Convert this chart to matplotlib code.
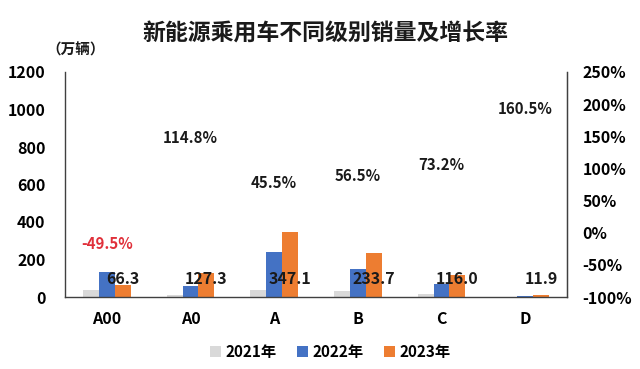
import matplotlib
matplotlib.use("Agg")
import matplotlib.pyplot as plt
import numpy as np

plt.rcParams['font.family'] = ['Noto Sans CJK SC', 'DejaVu Sans']

categories = ['A00', 'A0', 'A', 'B', 'C', 'D']
sales_2021 = [35, 9, 40, 32, 15, 1]
sales_2022 = [131.3, 59.3, 238.6, 149.3, 67.0, 4.6]
sales_2023 = [66.3, 127.3, 347.1, 233.7, 116.0, 11.9]
growth = [-49.5, 114.8, 45.5, 56.5, 73.2, 160.5]
left_ticks = [0, 200, 400, 600, 800, 1000, 1200]
right_ticks = [-100, -50, 0, 50, 100, 150, 200, 250]

c21, c22, c23 = '#d9d9d9', '#4472c4', '#ed7d31'

fig = plt.figure(figsize=(6.4, 3.69), dpi=100)
ax = fig.add_axes([65/640, 1-297/369, (567-65)/640, (297-72)/369])
x = np.arange(len(categories))
w = 0.19
ax.bar(x - w, sales_2021, w, color=c21, label='2021年')
ax.bar(x, sales_2022, w, color=c22, label='2022年')
ax.bar(x + w, sales_2023, w, color=c23, label='2023年')
ax.set_xlim(-0.5, len(categories) - 0.5)
ax.set_ylim(0, 1200)
ax.set_yticks(left_ticks)
ax.set_xticks(x)
ax.set_xticklabels(categories)
ax.tick_params(axis='both', length=0, labelsize=11.5)
ax.tick_params(axis='y', pad=14)
ax.tick_params(axis='x', pad=10)
for lab in ax.get_xticklabels() + ax.get_yticklabels():
    lab.set_fontweight('bold')
ax.spines['top'].set_visible(False)
for s in ['left', 'bottom', 'right']:
    ax.spines[s].set_color('#404040')
    ax.spines[s].set_linewidth(1.0)

# value labels for 2023
for xi, v in zip(x, sales_2023):
    ax.annotate(f'{v:.1f}', xy=(xi + w, 0), xytext=(0, 13), textcoords='offset points',
                ha='center', va='center', fontsize=11.5, fontweight='bold', color='#1a1a1a')

ax2 = ax.twinx()
ax2.set_ylim(-100, 250)
ax2.set_yticks(right_ticks)
ax2.set_yticklabels([f'{t}%' for t in right_ticks])
ax2.tick_params(axis='y', length=0, labelsize=11.5, pad=11)
for lab in ax2.get_yticklabels():
    lab.set_fontweight('bold')
for s in ['top', 'left', 'bottom']:
    ax2.spines[s].set_visible(False)
ax2.spines['right'].set_color('#404040')

for xi, g in zip(x, growth):
    col = '#e0303a' if g < 0 else '#1a1a1a'
    ax2.annotate(f'{g:.1f}%', xy=(xi, g), xytext=(0, 15), textcoords='offset points',
                 ha='center', va='center', fontsize=10.8, fontweight='bold', color=col)

fig.text(0.508, 1-33/369, '新能源乘用车不同级别销量及增长率', ha='center', va='center',
         fontsize=16.5, fontweight='bold', color='#1a1a1a')
fig.text(76/640, 1-50/369, '（万辆）', ha='center', va='center', fontsize=10.5,
         fontweight='bold', color='#1a1a1a')

leg = fig.legend(loc='center', bbox_to_anchor=(0.516, 1-352/369), ncol=3, frameon=False,
                 prop={'weight': 'bold', 'size': 11}, handlelength=0.75, handleheight=0.75,
                 handletextpad=0.3, columnspacing=1.3)

fig.savefig('out.png', dpi=100)
